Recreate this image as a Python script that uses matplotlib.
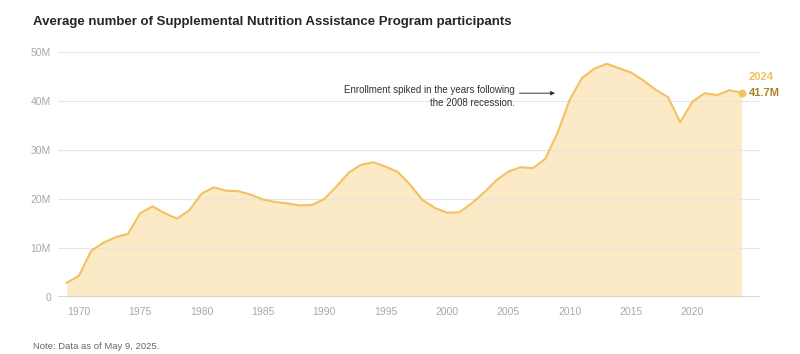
import matplotlib
matplotlib.use("Agg")
import matplotlib.pyplot as plt

years = list(range(1969, 2025))
participants_m = [2.9, 4.3, 9.4, 11.1, 12.2, 12.9, 17.1, 18.5, 17.1, 16.0,
                  17.7, 21.1, 22.4, 21.7, 21.6, 20.9, 19.9, 19.4, 19.1, 18.7,
                  18.8, 20.0, 22.6, 25.4, 27.0, 27.5, 26.6, 25.5, 22.9, 19.8,
                  18.2, 17.2, 17.3, 19.1, 21.3, 23.8, 25.6, 26.5, 26.3, 28.2,
                  33.5, 40.3, 44.7, 46.6, 47.6, 46.7, 45.8, 44.2, 42.3, 40.8,
                  35.7, 39.9, 41.6, 41.2, 42.2, 41.7]
x_ticks = [1970, 1975, 1980, 1985, 1990, 1995, 2000, 2005, 2010, 2015, 2020]
y_ticks = [0, 10, 20, 30, 40, 50]
y_labels = ["0", "10M", "20M", "30M", "40M", "50M"]

plt.rcParams['font.family'] = ['Liberation Sans', 'DejaVu Sans']

line_c = "#f2c261"
fill_c = "#fbe1ad"
grid_c = "#e6e6e6"
tick_c = "#a8a8a8"

fig = plt.figure(figsize=(8, 3.54), dpi=100)
ax = fig.add_axes([0.0725, 0.161, 0.8775, 0.692])

ax.fill_between(years, participants_m, 0, color=fill_c, alpha=0.7, lw=0, zorder=1)
ax.plot(years, participants_m, color=line_c, lw=1.5, zorder=3, solid_joinstyle='round')
ax.scatter([years[-1]], [participants_m[-1]], s=22, color=line_c, zorder=4, clip_on=False)

ax.set_xlim(1968.3, 2025.5)
ax.set_ylim(0, 50)
ax.set_yticks(y_ticks)
ax.set_yticklabels(y_labels)
ax.set_xticks(x_ticks)
ax.tick_params(axis='both', length=0, colors=tick_c, labelsize=7.5)
ax.tick_params(axis='y', pad=5)
ax.tick_params(axis='x', pad=7)
for yv in y_ticks[1:]:
    ax.axhline(yv, color=grid_c, lw=0.8, zorder=2)
ax.axhline(0, color="#d0d0d0", lw=1.2, zorder=5)
for s in ax.spines.values():
    s.set_visible(False)

fig.text(0.041, 0.937, "Average number of Supplemental Nutrition Assistance Program participants",
         fontsize=9.5, color="#262626", fontweight='bold', va='center', ha='left')
fig.text(0.041, 0.02, "Note: Data as of May 9, 2025.", fontsize=6.8, color="#666666",
         va='center', ha='left')

ax.annotate("", xy=(2008.8, 41.6), xytext=(2005.9, 41.6),
            arrowprops=dict(arrowstyle='-|>', color="#333333", lw=0.7,
                            mutation_scale=6, shrinkA=0, shrinkB=0))
ax.text(2005.5, 40.9, "Enrollment spiked in the years following\nthe 2008 recession.",
        fontsize=7, color="#333333", ha='right', va='center', linespacing=1.3)

ax.text(2024.6, 45.0, "2024", fontsize=8, color="#f0c060", fontweight='bold',
        ha='left', va='center', clip_on=False)
ax.text(2024.6, 41.7, "41.7M", fontsize=8, color="#a88520", fontweight='bold',
        ha='left', va='center', clip_on=False)

fig.savefig("out.png", dpi=100)
